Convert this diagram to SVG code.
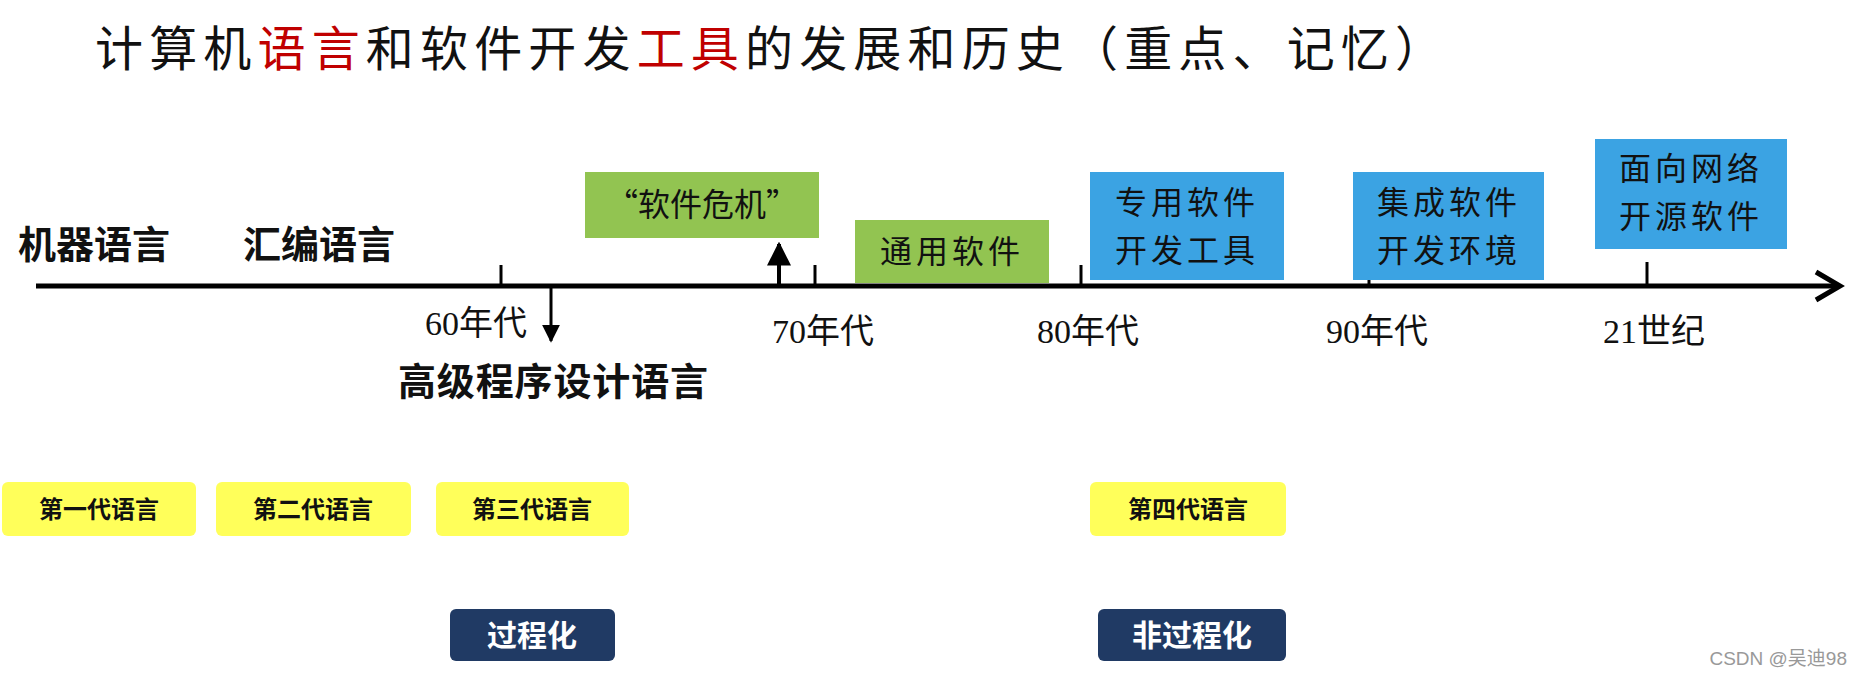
<svg xmlns="http://www.w3.org/2000/svg" width="1862" height="680" viewBox="0 0 1862 680">
<defs>
<style>
text{font-family:"Liberation Serif","Noto Sans CJK SC",serif;fill:#111}
.cjk{font-family:"Noto Sans CJK SC",sans-serif}
.big{font-size:38px;font-weight:bold}
.lab{font-size:34px}
.box{font-size:32px}
.green{fill:#92c451}
.blue{fill:#3ba3e3}
.yel{fill:#ffff5a}
.dark{fill:#203a64}
.ys{font-size:24px;font-weight:bold}
.ws{font-size:30px;font-weight:bold;fill:#fff}
</style>
<marker id="ah" viewBox="0 0 10 10" refX="9" refY="5" markerWidth="6" markerHeight="6" orient="auto"><path d="M0,0 L10,5 L0,10 z" fill="#000"/></marker>
</defs>
<rect width="1862" height="680" fill="#fff"/>
<text x="95" y="66" class="cjk" font-size="48" textLength="1348">计算机<tspan fill="#c00000">语言</tspan>和软件开发<tspan fill="#c00000">工具</tspan>的发展和历史（重点、记忆）</text>
<g id="connectors" stroke="#000" stroke-width="5" fill="none">
<line x1="36" y1="286" x2="1836" y2="286"/>
<path d="M1816,272 L1840,286 L1816,300" stroke-width="5"/>
<line x1="501" y1="265" x2="501" y2="286" stroke-width="3"/>
<line x1="815" y1="265" x2="815" y2="286" stroke-width="3"/>
<line x1="1081" y1="265" x2="1081" y2="286" stroke-width="3"/>
<line x1="1369" y1="278" x2="1369" y2="286" stroke-width="3"/>
<line x1="1647" y1="262" x2="1647" y2="286" stroke-width="3"/>
<line x1="779" y1="286" x2="779" y2="244" stroke-width="4" marker-end="url(#ah)"/>
<line x1="551" y1="286" x2="551" y2="341" stroke-width="3" marker-end="url(#ah)"/>
</g>
<g id="labels">
<text x="18" y="258" class="cjk big">机器语言</text>
<text x="243" y="258" class="cjk big">汇编语言</text>
<text x="425" y="335" class="lab">60年代</text>
<text x="772" y="343" class="lab">70年代</text>
<text x="1037" y="343" class="lab">80年代</text>
<text x="1326" y="343" class="lab">90年代</text>
<text x="1603" y="343" class="lab">21世纪</text>
<text x="398" y="395" class="cjk big" textLength="310">高级程序设计语言</text>
</g>
<g id="n-crisis"><rect x="585" y="172" width="234" height="66" class="green"/><text x="702" y="216" text-anchor="middle" class="cjk box">“软件危机”</text></g>
<g id="n-general"><rect x="855" y="220" width="194" height="63" class="green"/><text x="952" y="263" text-anchor="middle" class="cjk box" letter-spacing="4">通用软件</text></g>
<g id="n-special"><rect x="1090" y="172" width="194" height="108" class="blue"/><text x="1187" y="214" text-anchor="middle" class="cjk box" letter-spacing="4">专用软件</text><text x="1187" y="262" text-anchor="middle" class="cjk box" letter-spacing="4">开发工具</text></g>
<g id="n-ide"><rect x="1353" y="172" width="191" height="108" class="blue"/><text x="1449" y="214" text-anchor="middle" class="cjk box" letter-spacing="4">集成软件</text><text x="1449" y="262" text-anchor="middle" class="cjk box" letter-spacing="4">开发环境</text></g>
<g id="n-oss"><rect x="1595" y="139" width="192" height="110" class="blue"/><text x="1691" y="180" text-anchor="middle" class="cjk box" letter-spacing="4">面向网络</text><text x="1691" y="228" text-anchor="middle" class="cjk box" letter-spacing="4">开源软件</text></g>
<g id="g1"><rect x="2" y="482" width="194" height="54" rx="6" class="yel"/><text x="99" y="518" text-anchor="middle" class="cjk ys">第一代语言</text></g>
<g id="g2"><rect x="216" y="482" width="195" height="54" rx="6" class="yel"/><text x="313" y="518" text-anchor="middle" class="cjk ys">第二代语言</text></g>
<g id="g3"><rect x="436" y="482" width="193" height="54" rx="6" class="yel"/><text x="532" y="518" text-anchor="middle" class="cjk ys">第三代语言</text></g>
<g id="g4"><rect x="1090" y="482" width="196" height="54" rx="6" class="yel"/><text x="1188" y="518" text-anchor="middle" class="cjk ys">第四代语言</text></g>
<g id="proc"><rect x="450" y="609" width="165" height="52" rx="6" class="dark"/><text x="532" y="646" text-anchor="middle" class="cjk ws">过程化</text></g>
<g id="nonproc"><rect x="1098" y="609" width="188" height="52" rx="6" class="dark"/><text x="1192" y="646" text-anchor="middle" class="cjk ws">非过程化</text></g>
<text x="1847" y="665" text-anchor="end" font-size="19" style="font-family:'Liberation Sans','Noto Sans CJK SC',sans-serif;fill:#999">CSDN @吴迪98</text>
</svg>
